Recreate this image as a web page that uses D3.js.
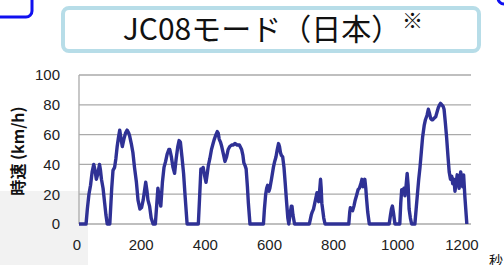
<!DOCTYPE html>
<html>
<head>
<meta charset="utf-8">
<script src="https://cdn.jsdelivr.net/npm/d3@7"></script>
<style>
  html, body { margin: 0; padding: 0; background: #fff; overflow: hidden; }
  #viz { width: 504px; height: 265px; }
</style>
</head>
<body>
<div id="viz"></div>
<script>
// JC08 mode speed trace (seconds, km/h)
const seconds = [
  0, 22, 26, 31, 36, 41, 46, 50, 54, 58, 64, 67, 70, 75, 80, 84, 88, 96,
  98, 102, 106, 111, 115, 119, 123, 127, 131, 135, 140, 145, 150, 155, 158, 163, 168, 173, 179, 184, 190, 195, 200, 204, 208, 212, 215, 220, 225, 231, 238,
  242, 246, 250, 255, 260, 265, 270, 275, 280, 283, 288, 293, 298, 303, 308, 312, 316, 321, 326, 331, 337,
  372, 376, 380, 384, 387, 391, 396, 400, 403, 408, 413, 418, 422, 427, 431, 434, 437, 441, 445, 450, 455, 460, 465, 470, 476, 481, 486, 493, 500, 507, 511, 514, 518, 521, 525, 528, 533,
  575, 578, 582, 585, 588, 592, 595, 600, 606, 610, 614, 618, 622, 625, 628, 631, 635, 639, 643, 647, 651, 654, 657, 659, 662, 664, 667, 672,
  718, 721, 724, 727, 731, 734, 737, 740, 742, 745, 747, 750, 753, 755, 757, 760, 763, 767,
  841, 844, 846, 849, 853, 857, 861, 865, 870, 874, 877, 880, 882, 885, 888, 891, 894, 896, 900, 905,
  967, 971, 974, 977, 980, 985,
  1000, 1003, 1006, 1010, 1013, 1016, 1019, 1023, 1026, 1029, 1033, 1037,
  1047, 1051, 1055, 1059, 1063, 1067, 1071, 1076, 1080, 1085, 1089, 1093, 1096, 1099, 1103, 1107, 1112, 1116, 1120, 1124, 1127, 1131, 1135, 1138,
  1142, 1146, 1150, 1154, 1158, 1162, 1165, 1169, 1172, 1176, 1179, 1182, 1185, 1188, 1190, 1193, 1196, 1199, 1203, 1207, 1209
];
const speed = [
  0, 0, 10, 20, 26, 35, 40, 36, 30, 33, 40, 36, 30, 24, 14, 6, 0, 0,
  8, 24, 36, 38, 44, 52, 58, 63, 57, 52, 57, 61, 63, 61, 59, 54, 48, 38, 28, 16, 10, 11, 16, 22, 28, 22, 16, 12, 4, 0, 0,
  12, 24, 18, 12, 28, 38, 42, 47, 50, 50, 45, 38, 34, 44, 52, 56, 55, 45, 34, 18, 0,
  0, 18, 37, 36, 38, 33, 28, 34, 39, 44, 50, 54, 57, 60, 62, 61, 57, 55, 52, 47, 42, 45, 50, 52, 53, 53, 54, 53, 53, 50, 46, 41, 39, 37, 25, 14, 0,
  0, 10, 20, 24, 26, 22, 24, 30, 38, 42, 45, 50, 54, 52, 48, 46, 45, 38, 27, 15, 4, 0, 5, 8, 12, 12, 6, 0,
  0, 3, 6, 8, 10, 13, 16, 19, 21, 17, 15, 22, 30, 24, 14, 9, 4, 0,
  0, 8, 11, 10, 9, 12, 16, 19, 23, 24, 26, 28, 30, 25, 27, 30, 24, 18, 8, 0,
  0, 6, 10, 12, 8, 0,
  0, 14, 23, 22, 24, 19, 24, 34, 26, 10, 4, 0,
  0, 10, 20, 30, 38, 48, 58, 66, 70, 73, 77, 74, 71, 70, 70, 71, 72, 75, 78, 80, 81, 80, 79, 77,
  68, 58, 46, 35, 30, 32, 27, 30, 22, 28, 33, 30, 24, 32, 35, 30, 25, 33, 18, 6, 0
];
const yTicks = [0, 20, 40, 60, 80, 100];
const xTicks = [0, 200, 400, 600, 800, 1000, 1200];

const title = 'JC08モード（日本）';
const note = '※';
const yLabel = '時速 (km/h)';
const xUnit = '秒';

const width = 504, height = 265;
const svg = d3.select('#viz').append('svg')
  .attr('width', width)
  .attr('height', height)
  .attr('role', 'img')
  .attr('aria-label', 'JC08 mode speed over time');

// slide decorations
svg.append('rect')
  .attr('x', 0).attr('y', 191).attr('width', 88).attr('height', 80)
  .attr('fill', '#f2f2f2');
svg.append('rect')
  .attr('x', -12).attr('y', -12).attr('width', 44).attr('height', 29).attr('rx', 6)
  .attr('fill', 'none').attr('stroke', '#1010f0').attr('stroke-width', 3);
svg.append('rect')
  .attr('x', 498).attr('y', -20).attr('width', 40).attr('height', 24).attr('rx', 6)
  .attr('fill', 'none').attr('stroke', '#1010f0').attr('stroke-width', 3);

// title box
svg.append('rect')
  .attr('x', 63).attr('y', 8).attr('width', 416).attr('height', 43).attr('rx', 6)
  .attr('fill', '#fff').attr('stroke', '#b7dde8').attr('stroke-width', 4);
svg.append('text')
  .attr('x', 262).attr('y', 40)
  .attr('text-anchor', 'middle')
  .attr('font-family', '"Noto Sans CJK JP", sans-serif')
  .attr('font-size', 30)
  .attr('fill', '#111')
  .text(title);
svg.append('text')
  .attr('x', 402).attr('y', 28)
  .attr('font-family', '"Noto Sans CJK JP", sans-serif')
  .attr('font-size', 21)
  .attr('fill', '#111')
  .text(note);

// scales
const x = d3.scaleLinear().domain([0, 1222]).range([79, 471]);
const y = d3.scaleLinear().domain([0, 100]).range([224, 75]);

// grid
svg.append('g')
  .selectAll('line')
  .data(yTicks)
  .join('line')
  .attr('x1', x(0)).attr('x2', x(1222))
  .attr('y1', d => y(d)).attr('y2', d => y(d))
  .attr('stroke', '#aaa').attr('stroke-width', 1.3);
svg.append('line')
  .attr('x1', x(0)).attr('x2', x(0))
  .attr('y1', y(0)).attr('y2', y(100))
  .attr('stroke', '#aaa').attr('stroke-width', 1.3);

// tick labels
const tickFont = '"Liberation Sans", Arial, sans-serif';
svg.append('g')
  .selectAll('text')
  .data(yTicks)
  .join('text')
  .attr('x', 60).attr('y', d => y(d))
  .attr('dy', '0.36em')
  .attr('text-anchor', 'end')
  .attr('font-family', tickFont).attr('font-size', 15).attr('fill', '#222')
  .text(d => d);
svg.append('g')
  .selectAll('text')
  .data(xTicks)
  .join('text')
  .attr('x', d => x(d) - 2).attr('y', 250)
  .attr('text-anchor', 'middle')
  .attr('font-family', tickFont).attr('font-size', 15).attr('fill', '#222')
  .text(d => d);

// axis titles
svg.append('text')
  .attr('transform', 'translate(24,151) rotate(-90)')
  .attr('text-anchor', 'middle')
  .attr('font-family', '"Noto Sans CJK JP", sans-serif')
  .attr('font-size', 16).attr('font-weight', 'bold').attr('fill', '#111')
  .text(yLabel);
svg.append('text')
  .attr('x', 489).attr('y', 266)
  .attr('font-family', '"Noto Sans CJK JP", sans-serif')
  .attr('font-size', 14).attr('fill', '#111')
  .text(xUnit);

// speed trace
const points = seconds.map((t, i) => [t, speed[i]]);
const line = d3.line().x(d => x(d[0])).y(d => y(d[1]));
svg.append('path')
  .datum(points)
  .attr('d', line)
  .attr('fill', 'none')
  .attr('stroke', '#2f3195')
  .attr('stroke-width', 3.4)
  .attr('stroke-linejoin', 'round');
</script>
</body>
</html>
